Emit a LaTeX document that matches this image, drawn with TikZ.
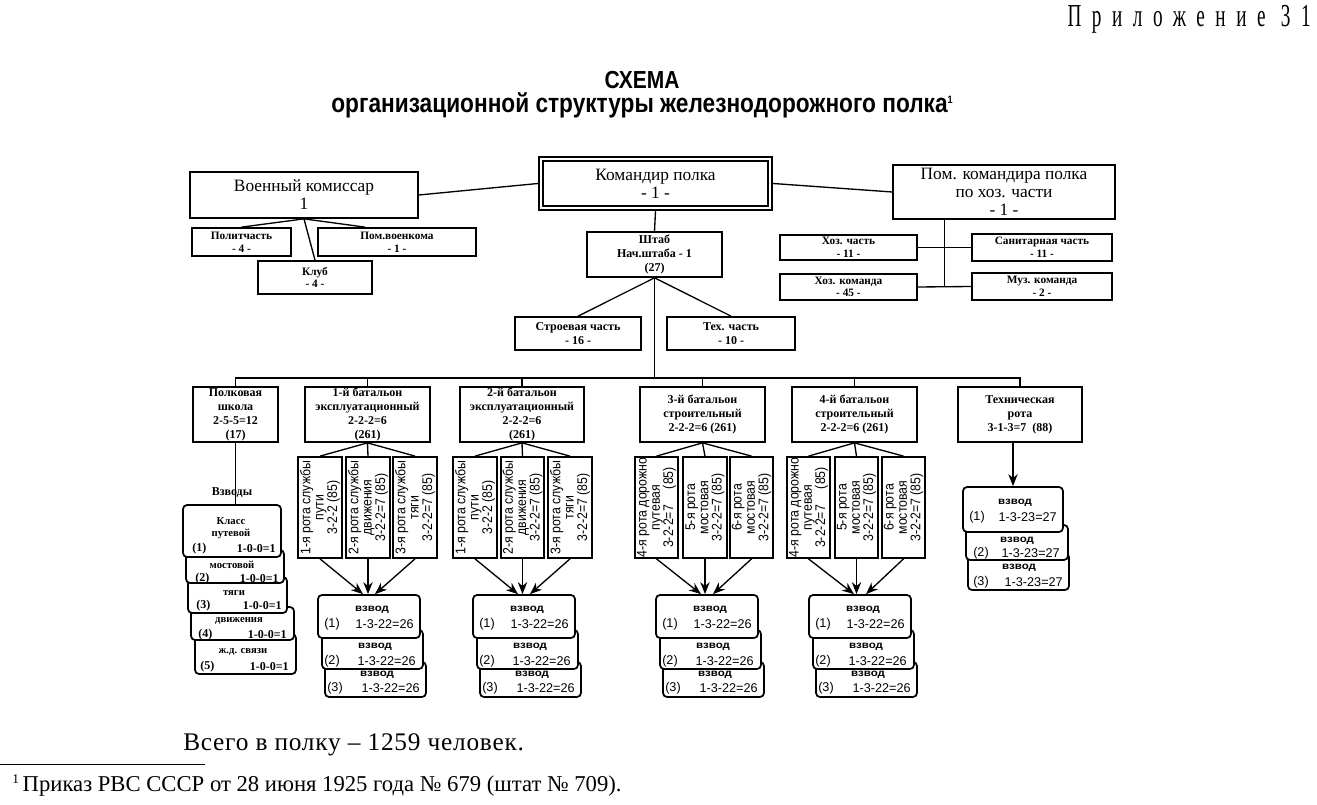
\documentclass[tikz,border=0pt]{standalone}
\usepackage{fontspec}
\setmainfont{Liberation Serif}
\setsansfont{Liberation Sans}
\newfontfamily\nsans[FakeStretch=0.88]{Liberation Sans}
\newfontfamily\tsans[FakeStretch=0.85]{Liberation Sans}
\newfontfamily\wsans[FakeStretch=1.15]{Liberation Sans}
\newfontfamily\hdrf[FakeStretch=0.6,LetterSpace=33]{Liberation Serif}
\newfontfamily\spserif[LetterSpace=3]{Liberation Serif}
\usetikzlibrary{fit,calc,arrows.meta}
\def\BX#1#2#3#4{\node[bx, fit={#3}] (#1) {};\node[#2, align=center, inner sep=0pt] (#1t) at (#1) {#4};}
\begin{document}
\begin{tikzpicture}[x=0.75pt,y=-0.75pt,
  bx/.style={draw, line width=1.3pt, fill=white, inner sep=0pt},
  rbx/.style={bx, rounded corners=3pt},
  ln/.style={line width=1pt},
  arr/.style={line width=1pt, -{Stealth[length=9pt,width=7pt]}},
  big/.style={font=\fontsize{13}{13.5}\selectfont},
  sm/.style={font=\fontsize{8.5}{9.5}\selectfont\bfseries},
  md/.style={font=\fontsize{9}{10.5}\selectfont\bfseries},
  rt/.style={rotate=90, align=center, inner sep=0pt, font=\nsans\fontsize{10.5}{10}\selectfont},
  vz/.style={inner sep=0pt, font=\wsans\bfseries\fontsize{7.5}{8}\selectfont},
  vn/.style={inner sep=0pt, font=\sffamily\fontsize{9.5}{10}\selectfont},
  pn/.style={inner sep=0pt, font=\fontsize{8}{9}\selectfont\bfseries},
  pd/.style={inner sep=0pt, font=\fontsize{9}{10}\selectfont\bfseries}]
\useasboundingbox (0,0) rectangle (1317,805);

% header and title
\node[anchor=base east, inner sep=0pt, font=\hdrf\fontsize{24}{25}\selectfont] (hdr) at (1311,27) {Приложение 31};
\node[anchor=base, inner sep=0pt, font=\tsans\bfseries\fontsize{18.5}{20}\selectfont] (t1) at (642,89) {СХЕМА};
\node[anchor=base, inner sep=0pt, font=\tsans\bfseries\fontsize{20}{22}\selectfont] (t2) at (642,113) {организационной структуры железнодорожного полка\raisebox{7pt}{\fontsize{8}{8}\selectfont 1}};

% top level
\BX{vk}{big}{(190,172)(418,218)}{Военный комиссар\\1}
\BX{pol}{sm}{(192,228)(291,256)}{Политчасть\\- 4 -}
\BX{pvk}{sm}{(318,228)(476,256)}{Пом.военкома\\- 1 -}
\BX{klub}{sm}{(258,261)(372,294)}{Клуб\\- 4 -}
\node[bx, double, line width=1.6pt, double distance=1.6pt, outer sep=2.4pt, fit={(541,159)(770,208)}] (kp) {};
\node[big, align=center, inner sep=0pt] (kpt) at (kp) {Командир полка\\- 1 -};
\BX{pk}{big}{(893,165)(1115,219)}{Пом. командира полка\\по хоз. части\\- 1 -}
\BX{hch}{sm}{(780,235)(917,260)}{Хоз. часть\\- 11 -}
\BX{san}{sm}{(972,234)(1112,261)}{Санитарная часть\\- 11 -}
\BX{hk}{sm}{(780,274)(917,300)}{Хоз. команда\\- 45 -}
\BX{muz}{sm}{(972,273)(1112,300)}{Муз. команда\\- 2 -}
\BX{sht}{md}{(587,232)(722,277)}{Штаб\\Нач.штаба - 1\\(27)}
\BX{str}{md}{(515,317)(641,350)}{Строевая часть\\- 16 -}
\BX{teh}{md}{(667,317)(795,350)}{Тех. часть\\- 10 -}

\draw[ln] (vk.east) -- (kp.west);
\draw[ln] (kp.east) -- (pk.west);
\draw[ln] (vk.south) -- (pol.north);
\draw[ln] (vk.south) -- ($(pvk.north west)!0.3!(pvk.north east)$);
\draw[ln] (vk.south) -- (klub.north);
\coordinate (pkb) at ($(pk.south west)!0.234!(pk.south east)$);
\draw[ln] (pkb) -- (pkb |- hk.east);
\draw[ln] (hch.east) -- (san.west);
\draw[ln] (hk.east) -- (muz.west);
\draw[ln] (kp.south) -- (sht.north);
\draw[ln] (sht.south) -- (str.north);
\draw[ln] (sht.south) -- (teh.north);

% battalions
\BX{shk}{md}{(193,387)(278,442)}{Полковая\\школа\\2-5-5=12\\(17)}
\BX{b1}{md}{(305,387)(430,442)}{1-й батальон\\эксплуатационный\\2-2-2=6\\(261)}
\BX{b2}{md}{(460,387)(584,442)}{2-й батальон\\эксплуатационный\\2-2-2=6\\(261)}
\BX{b3}{md}{(640,387)(765,442)}{3-й батальон\\строительный\\2-2-2=6 (261)}
\BX{b4}{md}{(792,387)(917,442)}{4-й батальон\\строительный\\2-2-2=6 (261)}
\BX{tr}{md}{(958,387)(1082,442)}{Техническая\\рота\\3-1-3=7~~(88)}

\coordinate (bus) at (0,378);
\draw[ln] (sht.south) -- (sht.south |- bus);
\draw[ln] (shk.north) -- (shk.north |- bus) -- (tr.north |- bus) -- (tr.north);
\foreach \b in {b1,b2,b3,b4} \draw[ln] (\b.north) -- (\b.north |- bus);

% rotas
\foreach \n/\xa/\xb in {r11/298/342, r12/346/390, r13/393/437, r21/453/497, r22/501/544, r23/548/592, r31/635/678, r32/683/727, r33/730/773, r41/787/830, r42/835/878, r43/882/925}
  \node[bx, fit={(\xa,457)(\xb,558)}] (\n) {};
\node[rt] (r11t) at (r11) {1-я рота службы\\пути\\3-2-2 (85)};
\node[rt] (r12t) at (r12) {2-я рота службы\\движения\\3-2-2=7 (85)};
\node[rt] (r13t) at (r13) {3-я рота службы\\тяги\\3-2-2=7 (85)};
\node[rt] (r21t) at (r21) {1-я рота службы\\пути\\3-2-2 (85)};
\node[rt] (r22t) at (r22) {2-я рота службы\\движения\\3-2-2=7 (85)};
\node[rt] (r23t) at (r23) {3-я рота службы\\тяги\\3-2-2=7 (85)};
\node[rt] (r31t) at (r31) {4-я рота дорожно\\путевая\\3-2-2=7\hspace{12pt}(85)};
\node[rt] (r32t) at (r32) {5-я рота\\мостовая\\3-2-2=7 (85)};
\node[rt] (r33t) at (r33) {6-я рота\\мостовая\\3-2-2=7 (85)};
\node[rt] (r41t) at (r41) {4-я рота дорожно\\путевая\\3-2-2=7\hspace{12pt}(85)};
\node[rt] (r42t) at (r42) {5-я рота\\мостовая\\3-2-2=7 (85)};
\node[rt] (r43t) at (r43) {6-я рота\\мостовая\\3-2-2=7 (85)};
\foreach \b in {1,2,3,4} { \foreach \r in {1,2,3} \draw[ln] (b\b.south) -- (r\b\r.north); }

% vzvod groups of battalions
\foreach \g/\c in {1/369,2/524,3/707,4/860}{
  \node[rbx, fit={(\c-44,662)(\c+57,697)}] (gc\g) {};
  \node[rbx, fit={(\c-47,630)(\c+54,669)}] (gb\g) {};
  \node[rbx, fit={(\c-51,595)(\c+51,638)}] (ga\g) {};
  \node[vz] (ga\g t) at (\c+3,610) {взвод};
  \node[vn, anchor=west] (ga\g n) at (\c-45,624) {(1)};
  \node[vn, anchor=east] (ga\g m) at (\c+45,624) {1-3-22=26};
  \node[vz] (gb\g t) at (\c+6,647) {взвод};
  \node[vn, anchor=west] (gb\g n) at (\c-45,661) {(2)};
  \node[vn, anchor=east] (gb\g m) at (\c+47,661) {1-3-22=26};
  \node[vz] (gc\g t) at (\c+8,675) {взвод};
  \node[vn, anchor=west] (gc\g n) at (\c-42,688) {(3)};
  \node[vn, anchor=east] (gc\g m) at (\c+51,688) {1-3-22=26};
  \draw[arr] (r\g1.south) -- ($(ga\g.north)+(-6,0)$);
  \draw[arr] (r\g2.south) -- (r\g2.south |- ga\g.north);
  \draw[arr] (r\g3.south) -- ($(ga\g.north)+(6,0)$);
}

% technical company vzvods
\node[rbx, fit={(968,553)(1069,590)}] (tc) {};
\node[rbx, fit={(966,525)(1068,560)}] (tb) {};
\node[rbx, fit={(963,487)(1063,532)}] (ta) {};
\node[vz] (tat) at (1015,503) {взвод};
\node[vn, anchor=west] (tan) at (969,517) {(1)};
\node[vn, anchor=east] (tam) at (1057,517) {1-3-23=27};
\node[vz] (tbt) at (1017,541) {взвод};
\node[vn, anchor=west] (tbn) at (973,553) {(2)};
\node[vn, anchor=east] (tbm) at (1060,553) {1-3-23=27};
\node[vz] (tct) at (1019,568) {взвод};
\node[vn, anchor=west] (tcn) at (973,582) {(3)};
\node[vn, anchor=east] (tcm) at (1063,582) {1-3-23=27};
\draw[arr] (tr.south -| ta.north) -- (ta.north);

% school vzvods
\node[rbx, fit={(195,634)(296,674)}] (p5) {};
\node[rbx, fit={(191,607)(294,640)}] (p4) {};
\node[rbx, fit={(188,577)(287,613)}] (p3) {};
\node[rbx, fit={(186,550)(284,583)}] (p2) {};
\node[rbx, fit={(183,505)(281,557)}] (p1) {};
\draw[ln] (shk.south) -- (shk.south |- p1.north);
\node[pd] (vzl) at (232,493) {Взводы};
\node[pn] (p1a) at (231,521) {Класс};
\node[pn] (p1b) at (231,534) {путевой};
\node[pd, anchor=west] (p1n) at (192,549) {(1)};
\node[pd, anchor=east] (p1m) at (276,549) {1-0-0=1};
\node[pn] (p2a) at (232,565) {мостовой};
\node[pd, anchor=west] (p2n) at (195,579) {(2)};
\node[pd, anchor=east] (p2m) at (279,579) {1-0-0=1};
\node[pn] (p3a) at (234,593) {тяги};
\node[pd, anchor=west] (p3n) at (196,606) {(3)};
\node[pd, anchor=east] (p3m) at (282,606) {1-0-0=1};
\node[pn] (p4a) at (239,621) {движения};
\node[pd, anchor=west] (p4n) at (198,635) {(4)};
\node[pd, anchor=east] (p4m) at (287,635) {1-0-0=1};
\node[pn] (p5a) at (243,652) {ж.д. связи};
\node[pd, anchor=west] (p5n) at (200,667) {(5)};
\node[pd, anchor=east] (p5m) at (289,667) {1-0-0=1};

% bottom
\node[anchor=base west, inner sep=0pt, font=\spserif\fontsize{19}{21}\selectfont] (tot) at (183,750) {Всего в полку – 1259 человек.};
\coordinate (fl) at (0,764);
\coordinate (fr) at (205,764);
\draw[line width=0.6pt] (fl) -- (fr);
\node[anchor=base west, inner sep=0pt, font=\fontsize{17}{19}\selectfont] (fn) at (12,791) {\raisebox{6pt}{\fontsize{10}{10}\selectfont 1}\,Приказ РВС СССР от 28 июня 1925 года № 679 (штат № 709).};
\end{tikzpicture}
\end{document}
